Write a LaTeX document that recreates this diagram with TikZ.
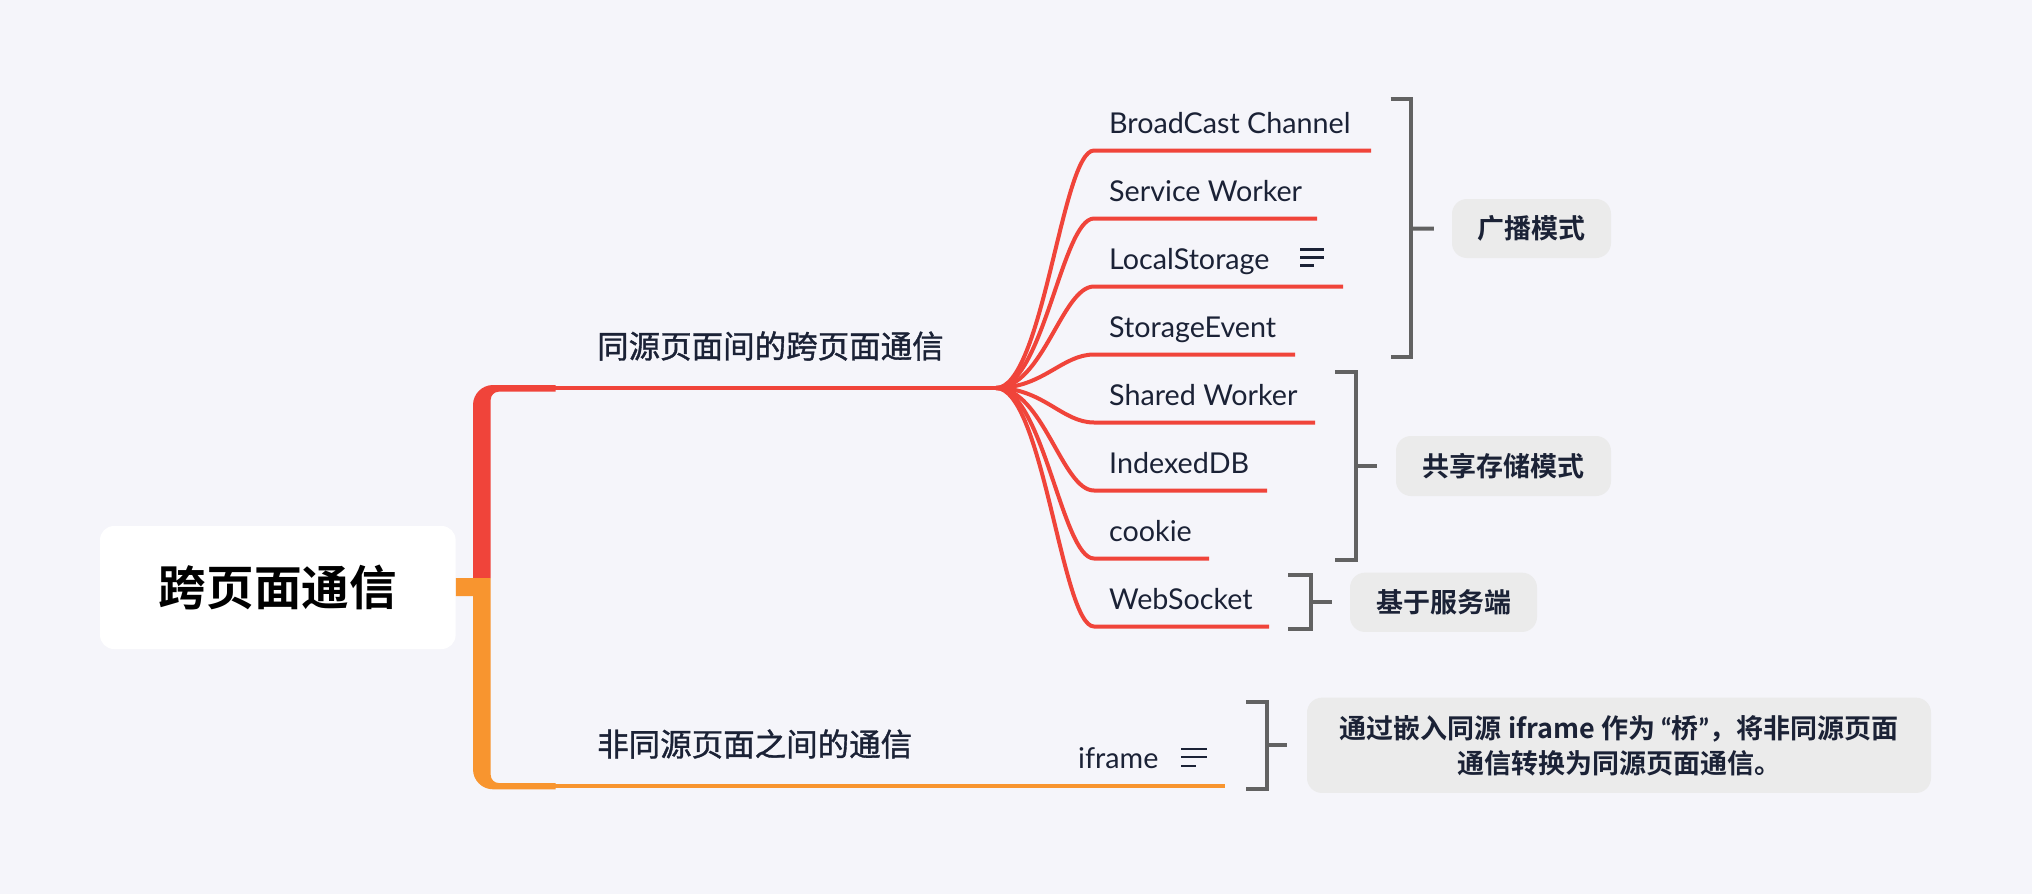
\documentclass[tikz,border=0pt]{standalone}
\usepackage{fontspec}
\setmainfont{Lato}
\newfontfamily\cjk{Noto Sans CJK SC}[BoldFont={Noto Sans CJK SC Bold}]
\newfontfamily\cjkm{Noto Sans CJK SC}[FakeBold=1.2]
\newfontfamily\latq{Lato}
\usetikzlibrary{calc}
\definecolor{bgc}{HTML}{F5F5FA}
\definecolor{redc}{HTML}{F0443A}
\definecolor{orc}{HTML}{F8952F}
\definecolor{txt}{HTML}{1B2236}
\definecolor{brk}{HTML}{626262}
\definecolor{lboxc}{HTML}{EBEBEB}
\tikzset{
  rootnode/.style={fill=white, rounded corners=14pt, minimum width=355.6pt, minimum height=123pt, inner sep=0pt, font=\cjk\bfseries\fontsize{47.6}{50}\selectfont, text=black},
  blabel/.style={inner sep=0pt, anchor=west, text=txt, font=\cjkm\fontsize{31.5}{34}\selectfont},
  child/.style={inner sep=0pt, anchor=base west, text=txt, font=\fontsize{28.7}{32}\selectfont},
  lab/.style={fill=lboxc, rounded corners=15pt, inner sep=0pt, text=txt, font=\cjk\bfseries\fontsize{27}{35}\selectfont, align=center},
  redline/.style={draw=redc, line width=4pt},
  orline/.style={draw=orc, line width=3.6pt},
  brkline/.style={draw=brk, line width=4pt},
  noteline/.style={draw=txt, line width=2.7pt}
}
\begin{document}
\begin{tikzpicture}[x=1pt,y=-1pt]
\useasboundingbox (0,0) rectangle (2032,894);
\fill[bgc] (0,0) rectangle (2032,894);

% root
\node[rootnode] (root) at (277.8,587.5) {跨页面通信};

% trunk
\fill[redc] (473,578) -- (473,405) .. controls (473,394) and (482,385) .. (493,385) -- (555.7,385) -- (555.7,391.7) -- (498.7,391.7) .. controls (494.3,391.7) and (490.7,395.3) .. (490.7,399.7) -- (490.7,578) -- cycle;
\fill[orc] (root.east |- 0,578) -- (490.7,578) -- (490.7,775) .. controls (490.7,779.4) and (494.3,783) .. (498.7,783) -- (555.7,783) -- (555.7,789.3) -- (493,789.3) .. controls (482,789.3) and (473,780.3) .. (473,769.3) -- (473,596) -- (root.east |- 0,596) -- cycle;

\coordinate (hub) at (996,388);
\coordinate (ifr) at (1225,786);
\draw[redline] (555,388) -- (hub);
\draw[orline] (555,786) -- (ifr);

% branch labels
\node[blabel] (b1) at (597,346) {同源页面间的跨页面通信};
\node[blabel] (b2) at (597,744) {非同源页面之间的通信};

% children
\foreach \i/\t/\y/\e in {1/BroadCast Channel/150.5/1371, 2/Service Worker/218.5/1317, 3/LocalStorage/286.5/1343, 4/StorageEvent/354.5/1295, 5/Shared Worker/422.5/1315, 6/IndexedDB/490.5/1267, 7/cookie/558.5/1209, 8/WebSocket/626.5/1269}{
  \node[child] (c\i) at (1109,\y-17) {\t};
  \coordinate (s\i) at (1094,\y);
  \coordinate (e\i) at (\e,\y);
  \draw[redline] (hub) .. controls (1043,388) and (1062,\y) .. (s\i) -- (e\i);
}

% iframe
\node[child] (cif) at (1078,768) {iframe};

% note icons
\draw[noteline] (1300,249.3) -- (1324,249.3) (1300,257.3) -- (1324,257.3) (1300,265.3) -- (1314,265.3);
\draw[noteline] (1181,749) -- (1207,749) (1181,757) -- (1207,757) (1181,766) -- (1195.5,766);

% label boxes
\node[lab, minimum width=159pt, minimum height=59pt] (g1) at (1531.5,228.5) {广播模式};
\node[lab, minimum width=215pt, minimum height=60pt] (g2) at (1503.5,466) {共享存储模式};
\node[lab, minimum width=187pt, minimum height=59.3pt] (g3) at (1443.5,602.3) {基于服务端};
\node[lab, minimum width=624pt, minimum height=95.3pt] (g4) at (1619,745.3) {通过嵌入同源 iframe 作为 {\latq\bfseries “}桥{\latq\bfseries ”}，将非同源页面\\通信转换为同源页面通信。};

% brackets
\draw[brkline] (1390.6,99.3) -- (1411,99.3) -- (1411,356.7) -- (1390.6,356.7);
\draw[brkline] (1411,228.7) -- ($(g1.west)+(-18,0)$);
\draw[brkline] (1335,371.7) -- (1355.6,371.7) -- (1355.6,560.3) -- (1335,560.3);
\draw[brkline] (1355.6,466) -- ($(g2.west)+(-19,0)$);
\draw[brkline] (1288,575.3) -- (1311,575.3) -- (1311,629.3) -- (1288,629.3);
\draw[brkline] (1311,602.3) -- ($(g3.west)+(-18,0)$);
\draw[brkline] (1246,702) -- (1266.8,702) -- (1266.8,788.7) -- (1246,788.7);
\draw[brkline] (1266.8,745.3) -- ($(g4.west)+(-20,0)$);
\end{tikzpicture}
\end{document}
